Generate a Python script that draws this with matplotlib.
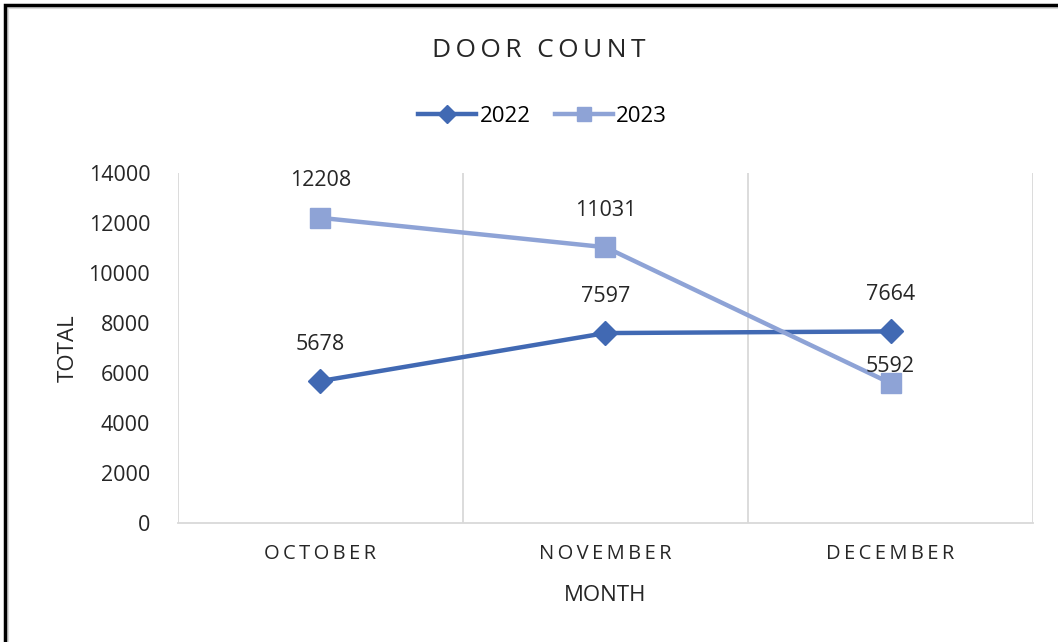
import matplotlib.pyplot as plt
from matplotlib.patches import Rectangle
from matplotlib.lines import Line2D

months = ["OCTOBER", "NOVEMBER", "DECEMBER"]
count_2022 = [5678, 7597, 7664]
count_2023 = [12208, 11031, 5592]
yticks = [0, 2000, 4000, 6000, 8000, 10000, 12000, 14000]

plt.rcParams['font.family'] = ['Open Sans', 'DejaVu Sans']

c22 = "#4169B3"
c23 = "#8EA3D6"
txt = "#262626"


def spaced(s):
    return "\u2009".join(s)


fig = plt.figure(figsize=(10.58, 6.42), dpi=100)
ax = fig.add_axes([0.1682, 0.1854, 0.8082, 0.5451])

x = list(range(len(months)))
ax.plot(x, count_2022, color=c22, lw=3.2, marker="D", ms=12, label="2022", zorder=3)
ax.plot(x, count_2023, color=c23, lw=3.2, marker="s", ms=14, label="2023", zorder=3)

# value labels above each point
for i, v in enumerate(count_2022):
    ax.annotate(str(v), (i, v), xytext=(0, 37), textcoords="offset pixels",
                ha="center", va="center", fontsize=15.5, color=txt)
offs_23 = [37, 37, 17]
for i, v in enumerate(count_2023):
    ax.annotate(str(v), (i, v), xytext=(0, offs_23[i]), textcoords="offset pixels",
                ha="center", va="center", fontsize=15.5, color=txt)

ax.set_xlim(-0.5, 2.5)
ax.set_ylim(0, 14000)
ax.set_yticks(yticks)
ax.set_yticklabels([str(t) for t in yticks], fontsize=15.5, color=txt)
ax.set_xticks(x)
ax.set_xticklabels([spaced(m) for m in months], fontsize=14.5, color=txt)
ax.tick_params(axis="x", length=0, pad=15)
ax.tick_params(axis="y", length=0, pad=20)

# vertical grid lines between categories
for b in [-0.5, 0.5, 1.5, 2.5]:
    ax.axvline(b, color="#D9D9D9", lw=1.3, zorder=1)
for s in ["top", "right", "left"]:
    ax.spines[s].set_visible(False)
ax.spines["bottom"].set_color("#D9D9D9")
ax.spines["bottom"].set_linewidth(1.3)

ax.set_xlabel("MONTH", fontsize=16, color=txt, labelpad=15)
ax.set_ylabel("TOTAL", fontsize=16, color=txt, labelpad=7)

fig.text(0.509, 0.922, spaced("DOOR") + "\u2009 \u2009" + spaced("COUNT"), ha="center",
         va="center", fontsize=19, color=txt)

handles = [Line2D([], [], color=c22, lw=3.2, marker="D", ms=9),
           Line2D([], [], color=c23, lw=3.2, marker="s", ms=10)]
fig.legend(handles, ["2022", "2023"], loc="center", bbox_to_anchor=(0.513, 0.819),
           ncol=2, frameon=False, fontsize=16, handlelength=2.6,
           columnspacing=1.1, handletextpad=0.15)

# chart frame
fig.patches.append(Rectangle((8 / 1058, -0.5), 1.5, 1.5 - 8 / 642,
                             transform=fig.transFigure, fill=False,
                             edgecolor="#D9D9D9", lw=1.5))
fig.patches.append(Rectangle((5 / 1058, -0.5), 1.5, 1.5 - 5 / 642,
                             transform=fig.transFigure, fill=False,
                             edgecolor="black", lw=2.5))

fig.savefig("out.png", dpi=100)
